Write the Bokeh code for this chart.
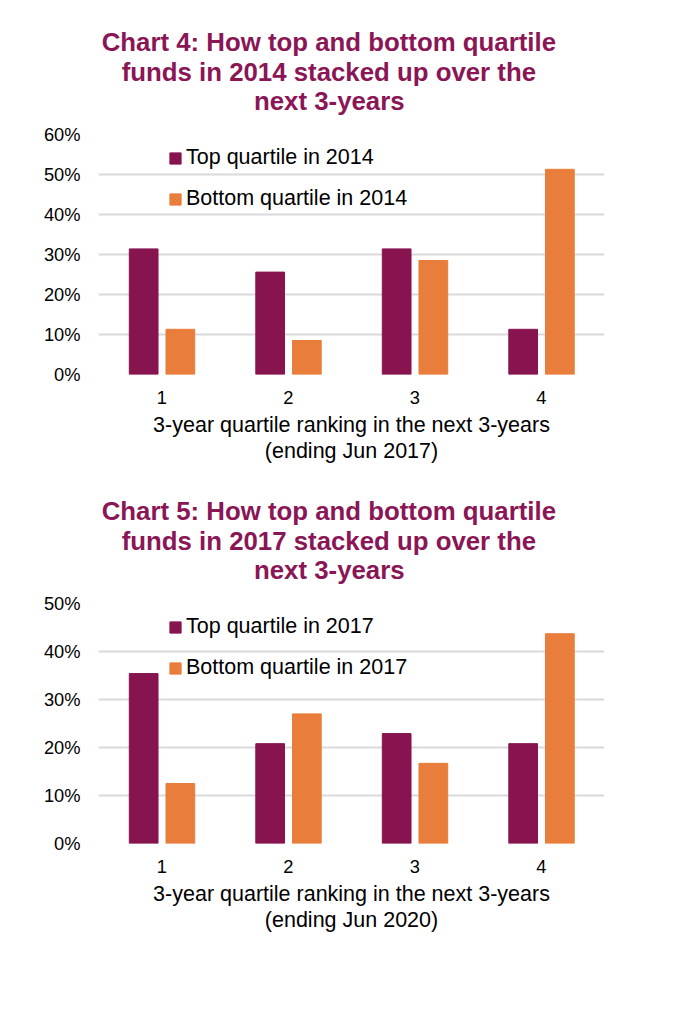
from bokeh.plotting import figure
from bokeh.models import (FactorRange, Range1d, NumeralTickFormatter, Title, Legend,
                          LegendItem, ColumnDataSource, FixedTicker)
from bokeh.transform import dodge
from bokeh.layouts import column
from bokeh.embed import file_html
from bokeh.resources import INLINE

# ---------------- data ----------------
categories = ["1", "2", "3", "4"]

top_2014 = [0.314, 0.256, 0.314, 0.113]
bottom_2014 = [0.113, 0.085, 0.285, 0.513]
top_2017 = [0.354, 0.208, 0.229, 0.208]
bottom_2017 = [0.125, 0.270, 0.167, 0.437]

yticks_4 = [0.0, 0.1, 0.2, 0.3, 0.4, 0.5, 0.6]
yticks_5 = [0.0, 0.1, 0.2, 0.3, 0.4, 0.5]

title_4 = ["Chart 4: How top and bottom quartile",
           "funds in 2014 stacked up over the",
           "next 3-years"]
title_5 = ["Chart 5: How top and bottom quartile",
           "funds in 2017 stacked up over the",
           "next 3-years"]
xlabel_4 = ["3-year quartile ranking in the next 3-years", "(ending Jun 2017)"]
xlabel_5 = ["3-year quartile ranking in the next 3-years", "(ending Jun 2020)"]
legend_4 = ["Top quartile in 2014", "Bottom quartile in 2014"]
legend_5 = ["Top quartile in 2017", "Bottom quartile in 2017"]

PURPLE = "#87144F"
ORANGE = "#E97D3B"
TITLE_COLOR = "#8A1656"
GRID = "#D9D9D9"
FONT = "Liberation Sans"

FRAME_W, FRAME_H = 506, 240
# title lines: left aligned, offset in pixels from the frame's left edge
TITLE_OFFSETS = [3.2, 23.2, 155.5]
TITLE_STANDOFFS = [0, 0, -1.5]
SPACER_TOP = 16.5
SPACER_BOTTOM = 1
XLABEL_STANDOFFS = [0, 0]


def make_chart(title_lines, top, bottom, labels, yticks, xlabel_lines):
    src = ColumnDataSource(dict(cat=categories, top=top, bottom=bottom))
    p = figure(x_range=FactorRange(factors=categories, range_padding=0),
               y_range=Range1d(0, yticks[-1]),
               frame_width=FRAME_W, frame_height=FRAME_H,
               min_border_left=98, min_border_right=70,
               min_border_top=134, min_border_bottom=95,
               output_backend="svg", toolbar_location=None,
               outline_line_color=None)
    p.background_fill_color = "white"
    p.border_fill_color = "white"

    r1 = p.vbar(x=dodge("cat", -0.143, range=p.x_range), top="top", width=0.227,
                source=src, fill_color=PURPLE, line_color=PURPLE)
    r2 = p.vbar(x=dodge("cat", 0.147, range=p.x_range), top="bottom", width=0.227,
                source=src, fill_color=ORANGE, line_color=ORANGE)

    # axes
    p.yaxis.ticker = FixedTicker(ticks=yticks)
    p.yaxis.formatter = NumeralTickFormatter(format="0%")
    p.yaxis.axis_line_color = None
    p.yaxis.major_tick_line_color = None
    p.yaxis.minor_tick_line_color = None
    p.yaxis.major_tick_out = 0
    p.yaxis.major_tick_in = 0
    p.yaxis.major_label_standoff = 18
    p.yaxis.major_label_text_font = FONT
    p.yaxis.major_label_text_font_size = "18.3px"
    p.yaxis.major_label_text_color = "black"

    p.xaxis.axis_line_color = None
    p.xaxis.major_tick_line_color = None
    p.xaxis.major_tick_out = 0
    p.xaxis.major_tick_in = 0
    p.xaxis.major_label_standoff = 16
    p.xaxis.major_label_text_font = FONT
    p.xaxis.major_label_text_font_size = "18.3px"
    p.xaxis.major_label_text_color = "black"

    p.xgrid.grid_line_color = None
    p.ygrid.grid_line_color = GRID
    p.ygrid.grid_line_width = 2
    p.ygrid.ticker = FixedTicker(ticks=yticks)

    # legend
    legend = Legend(items=[LegendItem(label=labels[0], renderers=[r1]),
                           LegendItem(label=labels[1], renderers=[r2])],
                    location=(70, 163), orientation="vertical",
                    background_fill_alpha=0, border_line_color=None,
                    glyph_width=14, glyph_height=14, label_standoff=4,
                    label_text_font=FONT, label_text_font_size="21.5px",
                    label_text_color="black", spacing=16, padding=0, margin=0)
    p.add_layout(legend, "center")

    # small spacer between the frame and the title block
    p.add_layout(Title(text=" ", text_font_size="1px", standoff=SPACER_TOP), "above")
    # chart title: first added Title sits nearest the frame
    for line, off, so in reversed(list(zip(title_lines, TITLE_OFFSETS, TITLE_STANDOFFS))):
        p.add_layout(Title(text=line, align="left", offset=off,
                           text_font=FONT, text_font_style="bold",
                           text_font_size="25.8px", text_color=TITLE_COLOR,
                           standoff=so), "above")
    # spacer between the tick labels and the x-axis label
    p.add_layout(Title(text=" ", text_font_size="1px", standoff=SPACER_BOTTOM), "below")
    # x-axis label lines
    for line, so in zip(xlabel_lines, XLABEL_STANDOFFS):
        p.add_layout(Title(text=line, align="center",
                           text_font=FONT, text_font_style="normal",
                           text_font_size="21.5px", text_color="black",
                           standoff=so), "below")
    return p


p4 = make_chart(title_4, top_2014, bottom_2014, legend_4, yticks_4, xlabel_4)
p5 = make_chart(title_5, top_2017, bottom_2017, legend_5, yticks_5, xlabel_5)

layout = column(p4, p5)
open("out.html", "w").write(file_html(layout, INLINE))
